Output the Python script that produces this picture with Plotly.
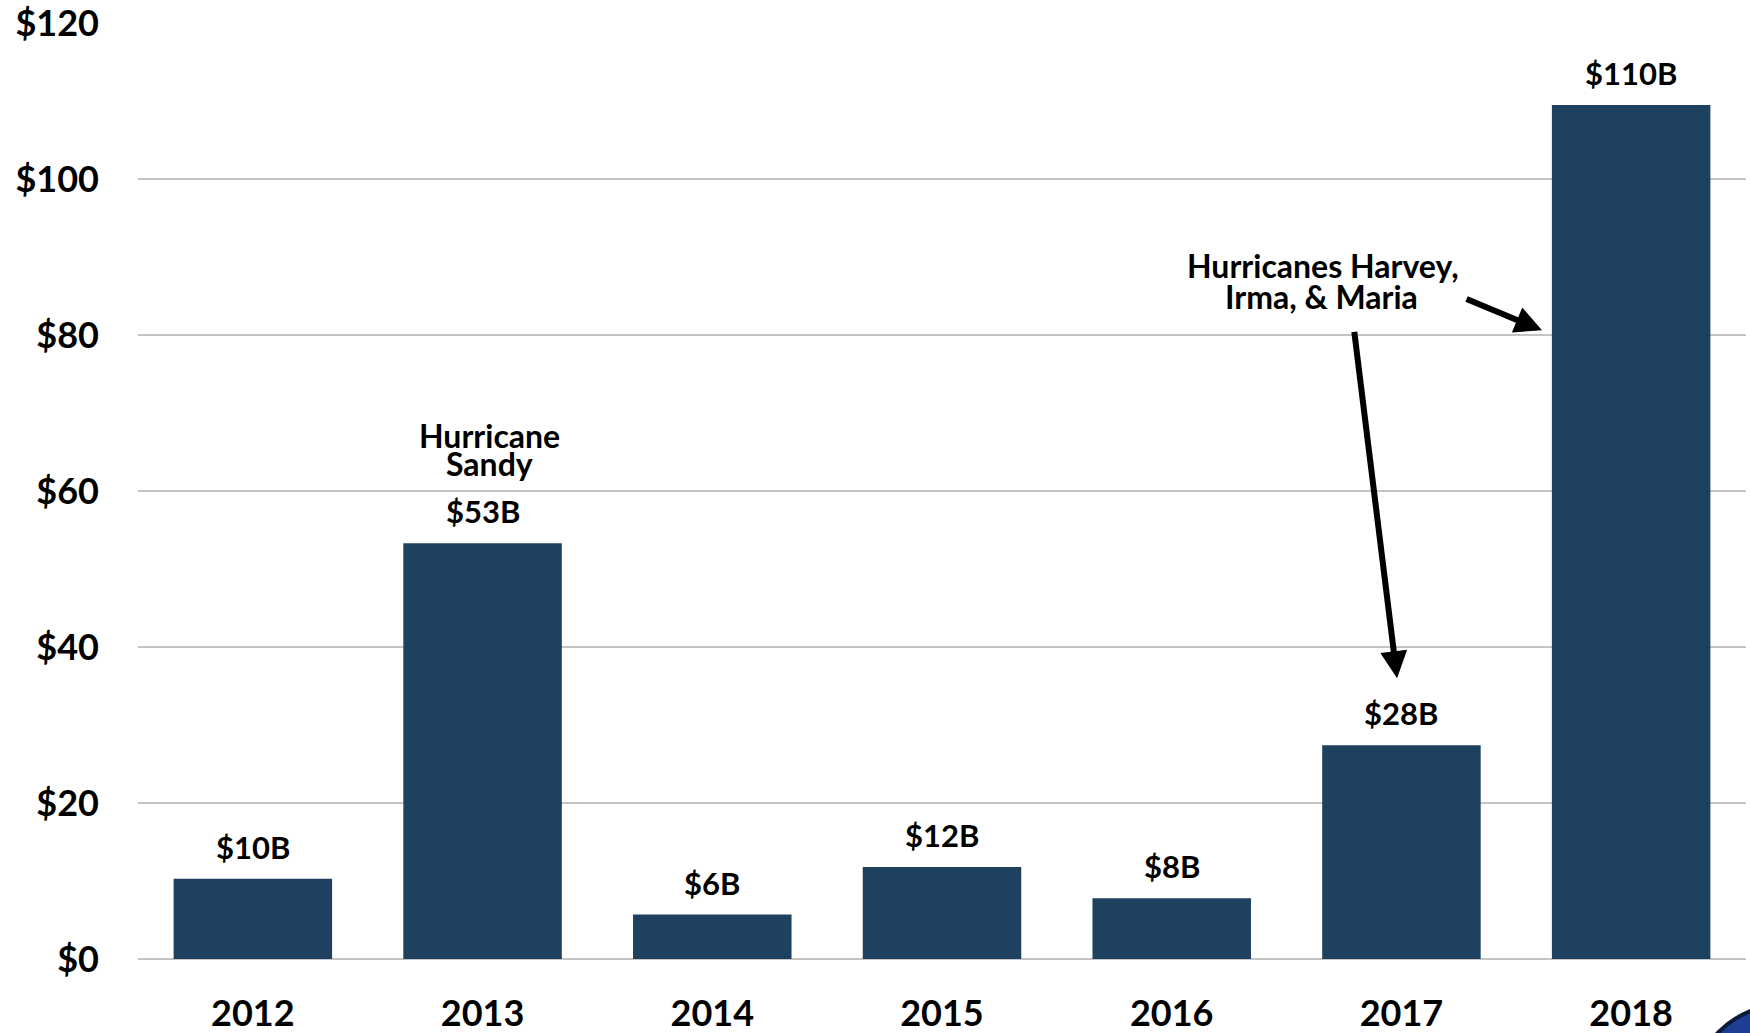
import plotly.graph_objects as go

years = ["2012", "2013", "2014", "2015", "2016", "2017", "2018"]
costs = [10.3, 53.3, 5.7, 11.8, 7.8, 27.4, 109.5]
cost_labels = ["$10B", "$53B", "$6B", "$12B", "$8B", "$28B", "$110B"]
y_ticks = [0, 20, 40, 60, 80, 100, 120]
y_tick_labels = ["$0", "$20", "$40", "$60", "$80", "$100", "$120"]

BAR = "#1F4160"
FONT = "Lato"
NOTE = dict(family=FONT, size=32, color="black", weight="bold")

fig = go.Figure()
fig.add_trace(go.Bar(
    x=years, y=costs, marker=dict(color=BAR, line=dict(width=0)),
    hoverinfo="skip",
))

annotations = []
for i, (v, lab) in enumerate(zip(costs, cost_labels)):
    annotations.append(dict(
        x=i, y=v, xref="x", yref="y", text=lab, showarrow=False,
        yanchor="bottom", yshift=11,
        font=dict(family=FONT, size=31, color="black", weight="bold"),
    ))

# Hurricane Sandy label (two tight lines)
annotations.append(dict(x=1.03, y=67.1, xref="x", yref="y", text="Hurricane",
                        showarrow=False, font=NOTE))
annotations.append(dict(x=1.03, y=63.5, xref="x", yref="y", text="Sandy",
                        showarrow=False, font=NOTE))

# Harvey/Irma/Maria label
annotations.append(dict(x=4.66, y=88.9, xref="x", yref="y", text="Hurricanes Harvey,",
                        showarrow=False, font=NOTE))
annotations.append(dict(x=4.65, y=84.9, xref="x", yref="y", text="Irma, &amp; Maria",
                        showarrow=False, font=NOTE))

# arrows
annotations.append(dict(x=5.612, y=80.6, ax=5.277, ay=84.7, xref="x", yref="y",
                        axref="x", ayref="y", text="", showarrow=True,
                        arrowhead=2, arrowsize=0.9, arrowwidth=6, arrowcolor="black"))
annotations.append(dict(x=4.981, y=36.0, ax=4.794, ay=80.6, xref="x", yref="y",
                        axref="x", ayref="y", text="", showarrow=True,
                        arrowhead=2, arrowsize=0.9, arrowwidth=6, arrowcolor="black"))

# partial logo at bottom-right corner
def px2paper_x(p):
    return (p - 138) / 1608
def px2paper_y(p):
    return (959 - p) / 936

shapes = [dict(type="circle", xref="paper", yref="paper",
               x0=px2paper_x(1692), x1=px2paper_x(1880),
               y0=px2paper_y(1190), y1=px2paper_y(1004),
               fillcolor="#1c3f94", line=dict(color="#0b1a3a", width=4), layer="above")]

fig.update_layout(
    width=1750, height=1033,
    margin=dict(l=138, r=4, t=23, b=74, autoexpand=False),
    paper_bgcolor="white", plot_bgcolor="white",
    bargap=0.31,
    showlegend=False,
    annotations=annotations,
    shapes=shapes,
    font=dict(family=FONT, color="black"),
)
fig.update_xaxes(
    type="category", range=[-0.5, len(years) - 0.5], autorange=False,
    automargin=False,
    showgrid=False, showline=False, zeroline=False,
    tickfont=dict(family=FONT, size=36, color="black", weight="bold"),
    ticks="", ticklabelstandoff=30,
)
fig.update_yaxes(
    range=[0, 120], autorange=False, tickvals=y_ticks, ticktext=y_tick_labels,
    automargin=False,
    showgrid=True, gridcolor="#c4c4c4", gridwidth=2,
    zeroline=True, zerolinecolor="#c4c4c4", zerolinewidth=2,
    showline=False, ticks="", ticklabeloverflow="allow",
    tickfont=dict(family=FONT, size=36, color="black", weight="bold"),
    ticklabelstandoff=38,
)

fig.write_html("out.html", config={"displayModeBar": False},
               post_script="document.body.style.margin='0';document.body.style.overflow='hidden';")
